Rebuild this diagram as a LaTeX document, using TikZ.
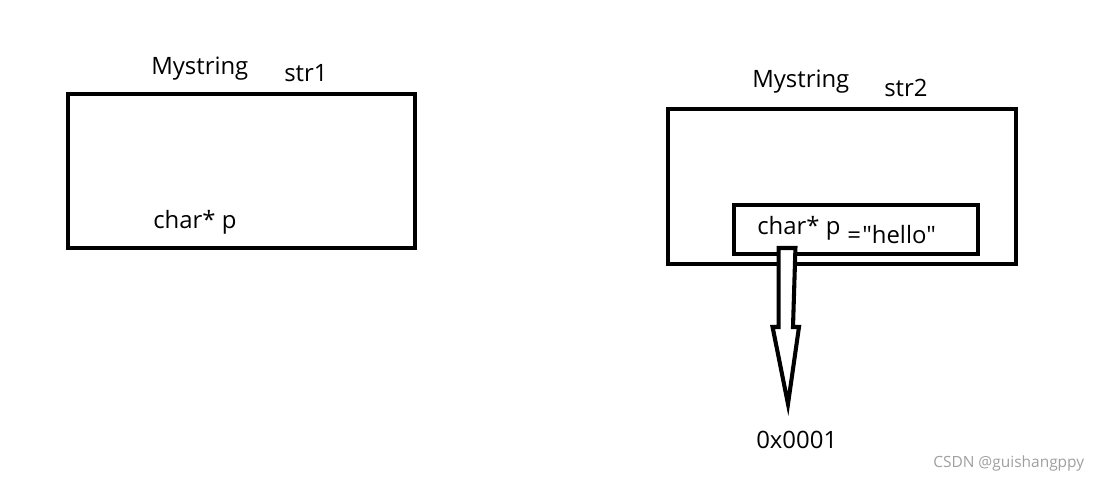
\documentclass[tikz,border=0pt]{standalone}
\usepackage{fontspec}
\newfontfamily\lblfont{Open Sans}
\tikzset{box/.style={draw,line width=2.9pt},
  lbl/.style={anchor=base west,inner sep=0pt,font=\lblfont\fontsize{17}{20}\selectfont},
  ptrarr/.style={draw,fill=white,line width=2.9pt,line join=miter}}

\begin{document}
\begin{tikzpicture}[x=0.025cm,y=-0.025cm]
  \useasboundingbox (0,0) rectangle (1106,479);
  % left object
  \draw[box] (68,94) rectangle (415,248);
  \node[lbl] (cls1) at (151,75) {Mystring};
  \node[lbl] (obj1) at (284,81) {str1};
  \node[lbl] (ptr1) at (153,228) {char* p};
  % right object
  \draw[box] (668,109) rectangle (1016,264);
  \draw[box] (734,205) rectangle (978,254);
  \node[lbl] (cls2) at (752,88) {Mystring};
  \node[lbl] (obj2) at (884,97) {str2};
  \node[lbl] (ptr2) at (757,234) {char* p};
  \node[lbl] (eq) at (847,243) {=};
  \node[lbl] (val) at (862,243) {"hello"};
  \node[lbl] (addr) at (756,448) {0x0001};
  % pointer arrow
  \coordinate (pa) at (787,248);
  \draw[ptrarr] ([xshift=-6]pa) -- ++(0,79) -- ++(-6,0) -- (788,404)
    -- (799,327) -- ++(-6,0) -- ([xshift=6]pa) -- cycle;
  \node[anchor=base west,inner sep=0pt,gray!75,font=\lblfont\fontsize{11}{13}\selectfont]
    (wm) at (933,467) {CSDN @guishangppy};
\end{tikzpicture}
\end{document}
